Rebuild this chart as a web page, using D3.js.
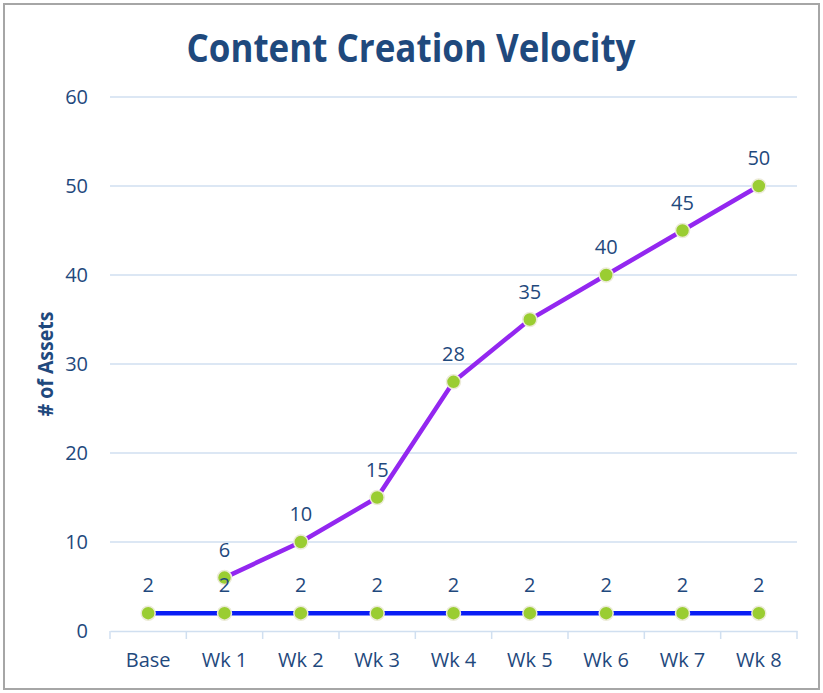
<!DOCTYPE html>
<html>
<head>
<meta charset="utf-8">
<script src="https://cdn.jsdelivr.net/npm/d3@7"></script>
<style>
  body { margin: 0; background: #fff; }
  text { font-family: "Open Sans", sans-serif; }
</style>
</head>
<body>
<div id="chart"></div>
<script>
const categories = ["Base", "Wk 1", "Wk 2", "Wk 3", "Wk 4", "Wk 5", "Wk 6", "Wk 7", "Wk 8"]
const velocity = [null, 6, 10, 15, 28, 35, 40, 45, 50]
const baseline = [2, 2, 2, 2, 2, 2, 2, 2, 2]
const yTicks = [0, 10, 20, 30, 40, 50, 60]

const width = 823
const height = 693
const textColor = "#1f497d"

const svg = d3.select("#chart").append("svg")
  .attr("width", width)
  .attr("height", height)

svg.append("rect")
  .attr("x", 4).attr("y", 4)
  .attr("width", 815).attr("height", 685)
  .attr("fill", "#fff")
  .attr("stroke", "#a6a6a6")
  .attr("stroke-width", 2)

const xScale = d3.scaleBand()
  .domain(categories)
  .range([110, 797])

const yScale = d3.scaleLinear()
  .domain([0, 60])
  .range([631, 97])

const cx = d => xScale(d) + xScale.bandwidth() / 2

// gridlines
svg.append("g")
  .selectAll("line")
  .data(yTicks.filter(t => t > 0))
  .enter()
  .append("line")
    .attr("x1", 110).attr("x2", 797)
    .attr("y1", d => yScale(d)).attr("y2", d => yScale(d))
    .attr("stroke", "#d0dff0")
    .attr("stroke-width", 1.5)

// y axis labels
svg.append("g")
  .selectAll("text")
  .data(yTicks)
  .enter()
  .append("text")
    .attr("x", 88)
    .attr("y", d => yScale(d))
    .attr("dy", "0.35em")
    .attr("text-anchor", "end")
    .attr("font-size", 20)
    .attr("fill", textColor)
    .text(d => d)

// x axis
const xAxis = svg.append("g")
  .attr("transform", "translate(0,631)")
  .call(d3.axisBottom(xScale).tickSize(0).tickPadding(22))
xAxis.select(".domain").attr("stroke", "#d0dff0").attr("stroke-width", 1.5)
xAxis.selectAll("text")
  .attr("font-size", 20)
  .attr("fill", textColor)
  .attr("font-family", "Open Sans, sans-serif")

const boundaries = categories.map(c => xScale(c)).concat([797])
svg.append("g")
  .selectAll("line")
  .data(boundaries)
  .enter()
  .append("line")
    .attr("x1", d => d).attr("x2", d => d)
    .attr("y1", 631).attr("y2", 639)
    .attr("stroke", "#d0dff0")
    .attr("stroke-width", 1.5)

// axis title
svg.append("text")
  .attr("transform", "translate(53,364) rotate(-90)")
  .attr("text-anchor", "middle")
  .attr("font-size", 21)
  .attr("font-weight", "bold")
  .attr("fill", textColor)
  .attr("textLength", 105)
  .attr("lengthAdjust", "spacingAndGlyphs")
  .text("# of Assets")

// chart title
svg.append("text")
  .attr("x", 411)
  .attr("y", 62)
  .attr("text-anchor", "middle")
  .attr("font-size", 39)
  .attr("font-weight", "bold")
  .attr("fill", textColor)
  .attr("textLength", 449)
  .attr("lengthAdjust", "spacingAndGlyphs")
  .text("Content Creation Velocity")

const series = [
  {values: baseline, color: "#0a1ef5"},
  {values: velocity, color: "#9327f0"}
]

const line = d3.line()
  .defined(d => d.v !== null)
  .x(d => cx(d.c))
  .y(d => yScale(d.v))

series.forEach(s => {
  const pts = categories.map((c, i) => ({c: c, v: s.values[i]}))
  svg.append("path")
    .datum(pts)
    .attr("fill", "none")
    .attr("stroke", s.color)
    .attr("stroke-width", 4.5)
    .attr("d", line)
  svg.append("g")
    .selectAll("circle")
    .data(pts.filter(d => d.v !== null))
    .enter()
    .append("circle")
      .attr("cx", d => cx(d.c))
      .attr("cy", d => yScale(d.v))
      .attr("r", 7)
      .attr("fill", "#9acd32")
      .attr("stroke", "#ecebd8")
      .attr("stroke-width", 1.5)
  s.pts = pts
})

series.forEach(s => {
  svg.append("g")
    .selectAll("text")
    .data(s.pts.filter(d => d.v !== null))
    .enter()
    .append("text")
      .attr("x", d => cx(d.c))
      .attr("y", d => yScale(d.v) - 21)
      .attr("text-anchor", "middle")
      .attr("font-size", 20)
      .attr("fill", textColor)
      .text(d => d.v)
})
</script>
</body>
</html>
